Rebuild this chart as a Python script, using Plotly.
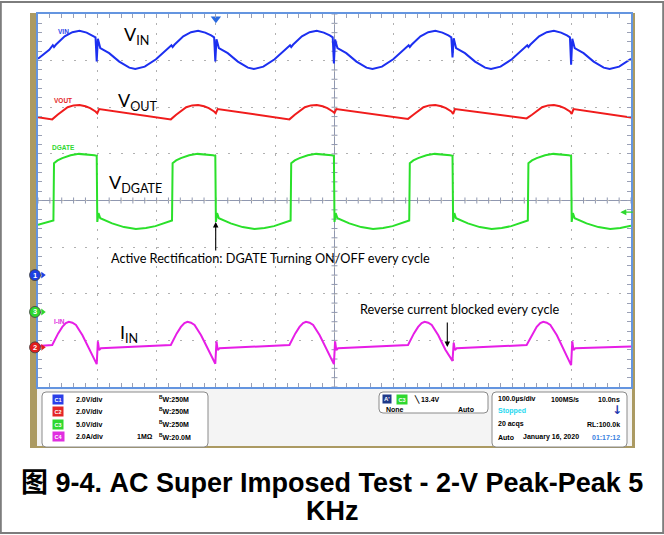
import plotly.graph_objects as go

# ---------------- data ----------------
# time in microseconds (100 us/div, 10 div), amplitude in screen divisions (8 div, centre = 0)
vin_t = [0, 19, 25, 27, 30, 45, 58, 70, 82, 92,
         97, 99, 101, 105, 120, 137, 154, 164, 180, 199, 216, 225, 227, 230, 245, 258, 270, 282, 292,
         297, 299, 301, 305, 320, 337, 354, 364, 380, 399, 416, 425, 427, 430, 445, 458, 470, 482, 492,
         497, 499, 501, 505, 520, 537, 554, 564, 580, 599, 616, 625, 627, 630, 645, 658, 670, 682, 692,
         697, 699, 701, 705, 720, 737, 754, 764, 780, 799, 816, 825, 827, 830, 845, 858, 870, 882, 892,
         897, 899, 901, 905, 920, 937, 954, 964, 980, 1000]
vin_v = [3.04, 3.23, 3.33, 3.29, 3.34, 3.52, 3.61, 3.64, 3.60, 3.54,
         3.50, 2.98, 3.47, 3.27, 3.16, 2.98, 2.85, 2.82, 2.87, 3.03, 3.23, 3.33, 3.29, 3.34, 3.52, 3.61, 3.64, 3.60, 3.54,
         3.50, 2.98, 3.46, 3.27, 3.16, 2.98, 2.85, 2.82, 2.87, 3.03, 3.23, 3.33, 3.29, 3.34, 3.52, 3.61, 3.64, 3.60, 3.54,
         3.50, 2.94, 3.45, 3.27, 3.16, 2.98, 2.85, 2.82, 2.87, 3.03, 3.23, 3.33, 3.29, 3.34, 3.52, 3.61, 3.64, 3.60, 3.54,
         3.50, 3.07, 3.48, 3.27, 3.16, 2.98, 2.85, 2.82, 2.87, 3.03, 3.23, 3.33, 3.29, 3.34, 3.52, 3.61, 3.64, 3.60, 3.54,
         3.50, 2.91, 3.47, 3.27, 3.16, 2.98, 2.85, 2.82, 2.87, 3.04]

vout_t = [0, 24, 33, 41, 50, 60, 70, 80, 88,
          97, 100, 103, 224, 233, 241, 250, 260, 270, 280, 288,
          297, 300, 303, 424, 433, 441, 450, 460, 470, 480, 488,
          497, 500, 503, 624, 633, 641, 650, 660, 670, 680, 688,
          697, 700, 703, 824, 833, 841, 850, 860, 870, 880, 888,
          897, 900, 903, 1000]
vout_v = [1.785, 1.74, 1.84, 1.92, 2.00, 2.04, 2.05, 2.02, 1.98,
          1.91, 1.87, 1.96, 1.74, 1.84, 1.92, 2.00, 2.04, 2.05, 2.02, 1.98,
          1.91, 1.87, 1.96, 1.74, 1.84, 1.92, 2.00, 2.04, 2.05, 2.02, 1.98,
          1.91, 1.88, 1.96, 1.75, 1.84, 1.92, 2.00, 2.04, 2.05, 2.02, 1.98,
          1.91, 1.86, 1.96, 1.76, 1.84, 1.92, 2.00, 2.04, 2.05, 2.02, 1.98,
          1.91, 1.86, 1.96, 1.78]

dgate_t = [0, 15, 26, 27, 33, 41, 55, 69, 85, 95,
           99, 100, 102, 105, 125, 145, 165, 182, 198, 215, 226, 227, 233, 241, 255, 269, 285, 295,
           299, 300, 302, 305, 325, 345, 365, 382, 398, 415, 426, 427, 433, 441, 455, 469, 485, 495,
           499, 500, 502, 505, 525, 545, 565, 582, 598, 615, 626, 627, 633, 641, 655, 669, 685, 695,
           699, 700, 702, 705, 725, 745, 765, 782, 798, 815, 826, 827, 833, 841, 855, 869, 885, 895,
           899, 900, 902, 905, 925, 945, 965, 982, 1000]
dgate_v = [-0.52, -0.47, -0.43, 0.80, 0.86, 0.91, 0.97, 1.00, 0.99, 0.97,
           0.96, -0.46, -0.27, -0.38, -0.49, -0.57, -0.61, -0.59, -0.55, -0.47, -0.43, 0.80, 0.86, 0.91, 0.97, 1.00, 0.99, 0.97,
           0.96, -0.46, -0.27, -0.38, -0.49, -0.57, -0.61, -0.59, -0.55, -0.47, -0.43, 0.80, 0.86, 0.91, 0.97, 1.00, 0.99, 0.97,
           0.96, -0.46, -0.27, -0.38, -0.49, -0.57, -0.61, -0.59, -0.55, -0.47, -0.43, 0.80, 0.86, 0.91, 0.97, 1.00, 0.99, 0.97,
           0.96, -0.46, -0.27, -0.38, -0.49, -0.57, -0.61, -0.59, -0.55, -0.47, -0.43, 0.80, 0.86, 0.91, 0.97, 1.00, 0.99, 0.97,
           0.96, -0.46, -0.27, -0.38, -0.49, -0.57, -0.61, -0.59, -0.54]

iin_t = [0, 24, 34, 41, 47, 52, 58, 64, 75, 87,
         99, 101, 103, 106, 224, 234, 241, 247, 252, 258, 264, 275, 287,
         299, 301, 303, 306, 424, 434, 441, 447, 452, 458, 464, 475, 487,
         499, 501, 503, 506, 624, 634, 641, 647, 652, 658, 664, 675, 687,
         699, 701, 703, 706, 824, 834, 841, 847, 852, 858, 864, 875, 887,
         899, 901, 903, 906, 1000]
iin_v = [-3.12, -3.10, -2.85, -2.71, -2.63, -2.60, -2.62, -2.67, -2.89, -3.20,
         -3.51, -3.02, -3.21, -3.17, -3.10, -2.85, -2.71, -2.63, -2.60, -2.62, -2.67, -2.89, -3.20,
         -3.50, -3.02, -3.21, -3.17, -3.10, -2.85, -2.71, -2.63, -2.60, -2.62, -2.67, -2.89, -3.20,
         -3.51, -3.02, -3.21, -3.17, -3.10, -2.85, -2.71, -2.63, -2.60, -2.62, -2.67, -2.89, -3.20,
         -3.44, -3.05, -3.21, -3.17, -3.10, -2.85, -2.71, -2.63, -2.60, -2.62, -2.67, -2.89, -3.20,
         -3.53, -3.02, -3.21, -3.17, -3.13]

# channel ground markers (position in divisions)
ch_names = ["1", "3", "2"]
ch_pos = [-1.60, -2.39, -3.15]
ch_colors = ["#1d3fe2", "#2ed82e", "#e21d1d"]

trigger_time = 300
trigger_level = -0.25

# scope readout panel
chan_pills = ["C1", "C2", "C3", "C4"]
chan_scales = ["2.0V/div", "2.0V/div", "5.0V/div", "2.0A/div"]
chan_bw = ["250M", "250M", "250M", "20.0M"]
chan_colors = ["#2a3fe8", "#e42626", "#2fd82f", "#e02ee0"]

caption_line1 = "图 9-4. AC Super Imposed Test - 2-V Peak-Peak 5"
caption_line2 = "KHz"

# ---------------- layout helpers ----------------
W, H = 664, 535
PL, PR, PT, PB = 38, 631, 14, 387


def fx(x):
    return (x - PL) / (PR - PL)


def fy(y):
    return (PB - y) / (PB - PT)


shapes = []
annotations = []


def rect(x0, y0, x1, y1, fill=None, line=None, lw=1, layer="below"):
    shapes.append(dict(type="rect", xref="paper", yref="paper",
                       x0=fx(x0), x1=fx(x1), y0=fy(y1), y1=fy(y0),
                       fillcolor=fill if fill else "rgba(0,0,0,0)",
                       line=dict(color=line if line else "rgba(0,0,0,0)", width=lw if line else 0),
                       layer=layer))


def rrect(x0, y0, x1, y1, r=4, fill="white", line="#8a8a8a"):
    X0, X1, Y0, Y1 = fx(x0), fx(x1), fy(y0), fy(y1)
    rx, ry = r / (PR - PL), r / (PB - PT)
    p = (f"M{X0+rx},{Y0} L{X1-rx},{Y0} Q{X1},{Y0} {X1},{Y0-ry} L{X1},{Y1+ry} Q{X1},{Y1} {X1-rx},{Y1} "
         f"L{X0+rx},{Y1} Q{X0},{Y1} {X0},{Y1+ry} L{X0},{Y0-ry} Q{X0},{Y0} {X0+rx},{Y0} Z")
    shapes.append(dict(type="path", xref="paper", yref="paper", path=p, fillcolor=fill,
                       line=dict(color=line, width=1), layer="below"))


def txt(x, y, text, size=7, color="black", anchor="left", family="Liberation Sans", bg=None, pad=0, vanchor="middle"):
    d = dict(xref="paper", yref="paper", x=fx(x), y=fy(y), text=text, showarrow=False,
             xanchor=anchor, yanchor=vanchor, font=dict(size=size, color=color, family=family))
    if bg:
        d["bgcolor"] = bg
        d["borderpad"] = pad
    annotations.append(d)


def arrow(xt, yt, ax, ay, color="black", width=1.1, head=2, size=1.0):
    annotations.append(dict(xref="paper", yref="paper", x=fx(xt), y=fy(yt), ax=ax, ay=ay, text="",
                            showarrow=True, arrowhead=head, arrowsize=size, arrowwidth=width,
                            arrowcolor=color, standoff=0))


# frame
shapes.append(dict(type="rect", xref="paper", yref="paper", x0=fx(0.8), x1=fx(663.2), y0=fy(533), y1=fy(2),
                   line=dict(color="#7d7d7d", width=2), fillcolor="rgba(0,0,0,0)", layer="above"))
rect(30, 13, 635, 448, fill="#ab9a62")
rect(38, 14, 631, 387, fill="white")
rect(37, 389, 632, 446, fill="#f4f4f4")
rrect(42, 392, 208, 447)
rrect(379, 392, 488, 413)
rrect(492, 392, 627, 447)

# centre graticule with ticks
segs = ["M500,-4L500,4", "M0,0L1000,0"]
for i in range(51):
    segs.append(f"M{i*20},-0.065L{i*20},0.065")
for j in range(41):
    yy = -4 + 0.2 * j
    segs.append(f"M495,{yy:.2f}L505,{yy:.2f}")
shapes.append(dict(type="path", xref="x", yref="y", path=" ".join(segs),
                   line=dict(color="#9098b0", width=1), layer="below"))

# channel ground markers: circles just left of the graticule
for name, pos, col in zip(ch_names, ch_pos, ch_colors):
    shapes.append(dict(type="circle", xref="paper", yref="y", xsizemode="pixel", ysizemode="pixel",
                       xanchor=fx(35), yanchor=pos, x0=-5.5, x1=5.5, y0=-5.5, y1=5.5,
                       fillcolor=col, line=dict(color="#404040", width=0.8), layer="above"))
    annotations.append(dict(xref="paper", yref="y", x=fx(35), y=pos, text=f"<b>{name}</b>", showarrow=False,
                            xanchor="center", yanchor="middle",
                            font=dict(size=7.5, color="white", family="Liberation Sans")))

# ---------------- figure ----------------
fig = go.Figure()
trace_specs = [(vin_t, vin_v, "#1c2ff0"), (vout_t, vout_v, "#f01c1c"),
               (dgate_t, dgate_v, "#2ae02a"), (iin_t, iin_v, "#e61ee6")]
for tx, vy, col in trace_specs:
    fig.add_trace(go.Scatter(x=tx, y=vy, mode="lines", line=dict(color=col, width=2),
                             hoverinfo="skip", showlegend=False))

fig.add_trace(go.Scatter(x=[8] * len(ch_pos), y=ch_pos, mode="markers",
                         marker=dict(size=6, symbol="triangle-right", color=ch_colors),
                         cliponaxis=False, hoverinfo="skip", showlegend=False))
# trigger position marker
fig.add_trace(go.Scatter(x=[trigger_time], y=[3.9], mode="markers",
                         marker=dict(size=9, symbol="triangle-down", color="#2a6ae0"),
                         cliponaxis=False, hoverinfo="skip", showlegend=False))
annotations.append(dict(xref="x", yref="y", x=982, y=trigger_level, ax=14, ay=0, text="",
                        showarrow=True, arrowhead=2, arrowsize=1, arrowwidth=1.2,
                        arrowcolor="#2ed82e", standoff=0))

# small channel labels
txt(56, 31.5, "<b>VIN</b>", 6.5, "#2a3fe8")
txt(52, 100, "<b>VOUT</b>", 6.5, "#e42626")
txt(49.5, 147, "<b>DGATE</b>", 6.5, "#2fd82f")
txt(52, 321, "<b>I-IN</b>", 6.5, "#e02ee0")

# big labels
big = "Lato"
txt(122, 35, "V<sub>IN</sub>", 18, "black", family=big)
txt(116, 101, "V<sub>OUT</sub>", 18, "black", family=big)
txt(107, 183, "V<sub>DGATE</sub>", 18, "black", family=big)
txt(118, 333, "I<sub>IN</sub>", 18, "black", family=big)

txt(270, 258, "Active Rectification: DGATE Turning ON/OFF every cycle", 12.7, "black", anchor="center", family=big)
arrow(215.7, 222, 0, 30)
txt(459.5, 309, "Reverse current blocked every cycle", 12.7, "black", anchor="center", family=big)
arrow(447.3, 347, 0, -26)

# readout panel: channels
rows_y = [399, 411, 424, 436.5]
for k in range(4):
    txt(58, rows_y[k], f"<b>{chan_pills[k]}</b>", 5.5, "white", anchor="center", bg=chan_colors[k], pad=1.5)
    txt(74, rows_y[k], f"<b>{chan_scales[k]}</b>", 7)
    txt(157, rows_y[k], f"<b><sup>B</sup>W:{chan_bw[k]}</b>", 7)
txt(135, rows_y[3], "<b>1MΩ</b>", 7)

# trigger box
txt(386.5, 399, "<b>A'</b>", 6, "white", anchor="center", bg="#1f3a8a", pad=1)
txt(401.5, 399, "<b>C3</b>", 5.5, "white", anchor="center", bg="#2fd82f", pad=1.5)
txt(412, 399, "<b>╲ 13.4V</b>", 7)
txt(384, 409.5, "<b>None</b>", 7)
txt(476, 409.5, "<b>Auto</b>", 7, anchor="right")

# timebase box
txt(496, 399, "<b>100.0µs/div</b>", 7)
txt(549, 399, "<b>100MS/s</b>", 7)
txt(622, 399, "<b>10.0ns</b>", 7, anchor="right")
txt(496, 411, "<b>Stopped</b>", 7, "#1ed8f0")
txt(617, 410, "<b>↓</b>", 12, "#1f3ab0", anchor="center", family="DejaVu Sans")
txt(496, 424, "<b>20 acqs</b>", 7)
txt(622, 424, "<b>RL:100.0k</b>", 7, anchor="right")
txt(496, 437, "<b>Auto</b>", 7)
txt(521, 437, "<b>January 16, 2020</b>", 7)
txt(622, 437, "<b>01:17:12</b>", 7, "#3a7fe0", anchor="right")

# caption
cap_font = "Liberation Sans, Noto Sans CJK SC"
txt(331.5, 483, f"<b>{caption_line1}</b>", 27, "black", anchor="center", family=cap_font)
txt(332, 511, f"<b>{caption_line2}</b>", 27, "black", anchor="center", family=cap_font)

axis_common = dict(showticklabels=False, ticks="inside", ticklen=4, tickcolor="#9aa0b4", tickwidth=1,
                   showline=True, linecolor="#6495e0", linewidth=2, mirror="allticks",
                   zeroline=False, showgrid=True, gridcolor="#b0b0b0", gridwidth=1, fixedrange=True)

fig.update_layout(
    width=W, height=H, autosize=False,
    margin=dict(l=PL, r=W - PR, t=PT, b=H - PB, pad=0),
    paper_bgcolor="white", plot_bgcolor="white",
    xaxis=dict(range=[0, 1000], tick0=0, dtick=100, griddash="2px,7.33px",
               minor=dict(dtick=20, ticks="inside", ticklen=4, tickcolor="#9aa0b4", showgrid=False),
               **axis_common),
    yaxis=dict(range=[-4, 4], tick0=-4, dtick=1, griddash="2px,9.86px",
               minor=dict(dtick=0.2, ticks="inside", ticklen=4, tickcolor="#9aa0b4", showgrid=False),
               **axis_common),
    shapes=shapes, annotations=annotations, showlegend=False,
)

fig.write_html("out.html", config={"displayModeBar": False},
               post_script="document.body.style.margin='0';document.body.style.padding='0';")
